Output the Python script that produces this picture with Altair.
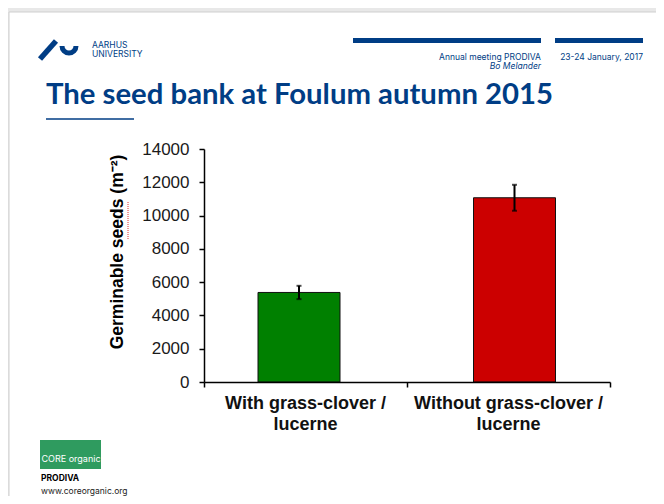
import math
import altair as alt
import pandas as pd

# ---- data ----
categories = ["With grass-clover / lucerne", "Without grass-clover / lucerne"]
label_lines = ["With grass-clover /\nlucerne", "Without grass-clover /\nlucerne"]
means = [5380, 11070]
errors = [400, 780]
bar_colors = ["#008000", "#cc0000"]
y_ticks = [0, 2000, 4000, 6000, 8000, 10000, 12000, 14000]

title_text = "The seed bank at Foulum autumn 2015"
y_title = "Germinable seeds (m\u207b\u00b2)"
header_left = "Annual meeting PRODIVA"
header_author = "Bo Melander"
header_date = "23-24 January, 2017"

AU_BLUE = "#003d85"

df = pd.DataFrame({
    "cat": categories,
    "label": label_lines,
    "mean": means,
    "err": errors,
    "color": bar_colors,
})
df["lo"] = df["mean"] - df["err"]
df["hi"] = df["mean"] + df["err"]

xscale = alt.Scale(domain=categories, paddingInner=0, paddingOuter=0)
yscale = alt.Scale(domain=[0, 14000], nice=False)
xaxis = alt.Axis(title=None, labels=False, tickBand="extent", tickSize=5,
                 tickColor="black", tickWidth=1.5, domainColor="black",
                 domainWidth=1.5, grid=False, zindex=2)
yaxis = alt.Axis(title=None, values=y_ticks, format="d", tickSize=5, tickColor="black",
                 tickWidth=1.5, domainColor="black", domainWidth=1.5, grid=False,
                 labelFont="Liberation Sans", labelFontSize=17, labelColor="#1a1a1a",
                 labelPadding=10, zindex=2)


def one():
    return alt.Chart(pd.DataFrame({"k": [0]}))


def rect(x, x2, y, y2, color, **kw):
    return one().mark_rect(color=color, **kw).encode(
        x=alt.value(x), x2=alt.value(x2), y=alt.value(y), y2=alt.value(y2))


def txt(s, x, y, size, color="black", align="left", weight="normal", style="normal",
        font="Lato", angle=0):
    return one().mark_text(text=s, align=align, baseline="middle", fontSize=size,
                           color=color, fontWeight=weight, fontStyle=style, font=font,
                           angle=angle).encode(x=alt.value(x), y=alt.value(y))


layers = []
# slide background
layers.append(rect(-195, 460, -137, 355, "white", stroke="#cfcfcf", strokeWidth=1))

# AU logo
layers.append(one().mark_rule(color=AU_BLUE, strokeWidth=5.5, strokeCap="butt").encode(
    x=alt.value(-164), y=alt.value(-90), x2=alt.value(-148), y2=alt.value(-108)))
layers.append(one().mark_arc(color=AU_BLUE, theta=math.pi / 2, theta2=3 * math.pi / 2,
                             radius=9.5, radius2=4.5).encode(
    x=alt.value(-135), y=alt.value(-103)))
layers.append(txt("AARHUS", -112, -104, 8.5, AU_BLUE, font="Inter"))
layers.append(txt("UNIVERSITY", -112, -95, 8.5, AU_BLUE, font="Inter"))

# header bars and texts
layers.append(rect(149, 337, -111, -106, AU_BLUE))
layers.append(rect(351, 439, -111, -106, AU_BLUE))
layers.append(txt(header_left, 337, -92, 8.5, AU_BLUE, align="right", font="Inter"))
layers.append(txt(header_author, 337, -83, 8.5, AU_BLUE, align="right", style="italic", font="Inter"))
layers.append(txt(header_date, 439, -92, 8.5, AU_BLUE, align="right", font="Inter"))

# title + underline
layers.append(one().mark_text(text=title_text, align="left", baseline="alphabetic",
                              fontSize=29.3, color=AU_BLUE, fontWeight="bold", font="Lato")
              .encode(x=alt.value(-158), y=alt.value(-45)))
layers.append(one().mark_rule(color=AU_BLUE, strokeWidth=1.5).encode(
    x=alt.value(-158), x2=alt.value(-70), y=alt.value(-30)))

# bottom-left logo
layers.append(rect(-164, -103, 291, 320, "#2f9b5f"))
layers.append(txt("CORE organic", -133, 310, 9, "white", align="center", font="Inter"))
layers.append(txt("PRODIVA", -163, 329, 8.5, "black", weight="bold", font="Inter"))
layers.append(txt("www.coreorganic.org", -163, 342, 8.5, "#222", font="Inter"))

# y axis title
layers.append(txt(y_title, -86, 103, 17.5, "black", align="center", weight="bold",
                  font="Liberation Sans", angle=270))
layers.append(one().mark_rule(color="#e03030", strokeWidth=1, strokeDash=[1, 1]).encode(
    x=alt.value(-76), y=alt.value(53), y2=alt.value(91)))

# x labels via the band scale
layers.append(alt.Chart(df).mark_text(align="center", baseline="middle", fontSize=18,
                                      fontWeight="bold", font="Liberation Sans",
                                      lineBreak="\n", lineHeight=21, color="#111")
              .encode(x=alt.X("cat:N", scale=xscale, axis=xaxis, sort=categories),
                      y=alt.value(255), text="label:N"))

# bars + error bars (slightly shifted like the original)
offsets = [-6.5, 6]
for cat, off in zip(categories, offsets):
    base = alt.Chart(df).transform_filter(alt.datum.cat == cat)
    X = alt.X("cat:N", scale=xscale, axis=xaxis, sort=categories)
    layers.append(base.mark_bar(width=82, stroke="#111", strokeWidth=1, xOffset=off).encode(
        x=X, y=alt.Y("mean:Q", scale=yscale, axis=yaxis),
        color=alt.Color("color:N", scale=None)))
    layers.append(base.mark_rule(color="black", strokeWidth=2, xOffset=off).encode(
        x=X, y=alt.Y("lo:Q", scale=yscale, axis=yaxis), y2="hi:Q"))
    layers.append(base.mark_tick(color="black", size=5, thickness=2, xOffset=off).encode(
        x=X, y=alt.Y("hi:Q", scale=yscale, axis=yaxis)))
    layers.append(base.mark_tick(color="black", size=5, thickness=2, xOffset=off).encode(
        x=X, y=alt.Y("lo:Q", scale=yscale, axis=yaxis)))

chart = alt.layer(*layers).properties(
    width=406, height=233,
    padding={"left": 196, "top": 141, "right": 46, "bottom": 114},
    autosize="none", background="#e8e8e8",
).configure_view(stroke=None)

chart.save("out.html", embed_options={"renderer": "svg", "actions": False})
